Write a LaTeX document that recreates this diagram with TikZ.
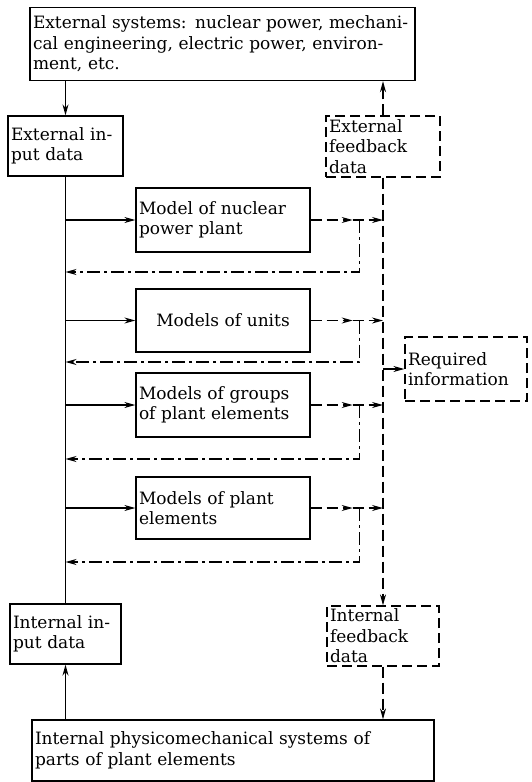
\documentclass[tikz,border=0pt]{standalone}
\usepackage{fontspec}
\setmainfont{DejaVu Serif}
\usetikzlibrary{arrows.meta}
\begin{document}
\begin{tikzpicture}[x=1pt,y=-1pt,
  font=\fontsize{17}{20.5}\selectfont,
  box/.style={draw, line width=1.3pt, align=left, inner xsep=3pt, inner ysep=1pt},
  dbox/.style={box, dash pattern=on 10pt off 5pt},
  arr/.style={-{Stealth[length=11pt,width=6pt]}},
  conn/.style={line width=1.2pt},
  dsh/.style={conn, dash pattern=on 11pt off 5pt},
  dd/.style={conn, dash pattern=on 13pt off 4pt on 3pt off 4pt}]
\useasboundingbox (0,0) rectangle (532,782);

\node[box, text width=379pt, minimum height=73pt] (top) at (222.5,44)
  {External systems: nuclear power, mechani-\\cal engineering, electric power, environ-\\ment, etc.};
\node[box, text width=109pt, minimum height=60pt] (ein) at (65.5,146) {External in-\\put data};
\node[dbox, text width=108pt, minimum height=61pt] (efb) at (383,146.5) {External\\feedback\\data};

\node[box, text width=168pt, minimum height=64pt] (m1) at (223,220) {Model of nuclear\\power plant};
\node[box, text width=168pt, minimum height=63pt, align=center] (m2) at (223,320.5) {Models of units};
\node[box, text width=168pt, minimum height=64pt] (m3) at (223,405) {Models of groups\\of plant elements};
\node[box, text width=168pt, minimum height=62pt] (m4) at (223,508) {Models of plant\\elements};

\node[dbox, text width=116pt, minimum height=64pt] (req) at (466,369) {Required\\information};

\node[box, text width=105pt, minimum height=60pt] (iin) at (65.5,634) {Internal in-\\put data};
\node[dbox, text width=106pt, minimum height=60pt] (ifb) at (383,636) {Internal\\feedback\\data};
\node[box, text width=396pt, minimum height=61pt] (bot) at (233,750.5)
  {Internal physicomechanical systems of\\parts of plant elements};

% main flows
\draw[conn,arr] (ein.north |- top.south) -- (ein.north);
\draw[dsh,arr] (efb.north) -- (efb.north |- top.south);
\draw[dsh,arr] (efb.south) -- (ifb.north);
\draw[conn] (ein.south) -- (iin.north);
\draw[conn,arr] (iin.south |- bot.north) -- (iin.south);
\draw[dsh,arr] (ifb.south) -- (ifb.south |- bot.north);
\draw[conn,arr] (req.west -| efb.south) -- (req.west);

% return coordinates
\coordinate (r1) at (65.5,272);
\coordinate (r2) at (65.5,362);
\coordinate (r3) at (65.5,459);
\coordinate (r4) at (65.5,562);

\foreach \m/\r in {m1/r1, m2/r2, m3/r3, m4/r4}{
  \draw[conn,arr] (ein.south |- \m.west) -- (\m.west);
  \draw[dsh,arr] (\m.east) -- ([xshift=42pt]\m.east) coordinate (k\m);
  \draw[dsh,arr] (k\m) -- (k\m -| efb.south);
  \draw[dd,arr] ([xshift=49pt]\m.east) |- (\r);
}
\end{tikzpicture}
\end{document}
